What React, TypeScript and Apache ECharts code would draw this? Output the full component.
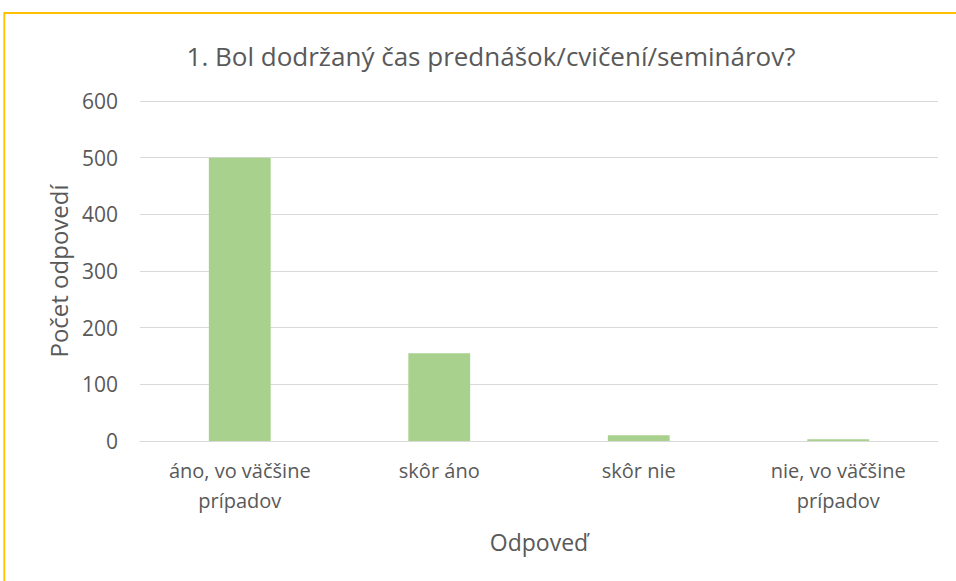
import React, { useEffect, useRef } from "react";
import * as echarts from "echarts";

const categories = ["áno, vo väčšine\nprípadov", "skôr áno", "skôr nie", "nie, vo väčšine\nprípadov"];
const values = [500, 155, 10, 3];
const titleText = "1. Bol dodržaný čas prednášok/cvičení/seminárov?";
const yAxisName = "Počet odpovedí";
const xAxisName = "Odpoveď";

const FONT = "'Open Sans', sans-serif";
const TEXT = "#595959";

export default function App() {
  const ref = useRef<HTMLDivElement>(null);
  useEffect(() => {
    if (!ref.current) return;
    const chart = echarts.init(ref.current, undefined, { renderer: "svg" });
    chart.setOption({
      animation: false,
      backgroundColor: "#ffffff",
      grid: { left: 140, right: 18, top: 101, bottom: 140 },
      xAxis: {
        type: "category",
        data: categories,
        axisLine: { show: true, lineStyle: { color: "#D9D9D9", width: 1 } },
        axisTick: { show: false },
        axisLabel: {
          color: TEXT,
          fontFamily: FONT,
          fontSize: 20,
          lineHeight: 30,
          margin: 14,
          interval: 0,
        },
      },
      yAxis: {
        type: "value",
        min: 0,
        max: 600,
        interval: 100,
        axisLine: { show: false },
        axisTick: { show: false },
        splitLine: { lineStyle: { color: "#D9D9D9", width: 1 } },
        axisLabel: { color: TEXT, fontFamily: FONT, fontSize: 21, margin: 22 },
      },
      series: [
        {
          type: "bar",
          data: values,
          barWidth: "31%",
          itemStyle: { color: "#A9D18E" },
        },
      ],
      graphic: [
        {
          type: "rect",
          shape: { x: 4.3, y: 13, width: 1200, height: 1200 },
          style: { fill: "none", stroke: "#FFC000", lineWidth: 1.8 },
          silent: true,
        },
        {
          type: "text",
          x: 491,
          y: 56,
          style: {
            text: titleText,
            fill: TEXT,
            font: `26px ${FONT}`,
            textAlign: "center",
            textVerticalAlign: "middle",
          },
        },
        {
          type: "text",
          x: 58,
          y: 271,
          rotation: Math.PI / 2,
          style: {
            text: yAxisName,
            fill: TEXT,
            font: `24px ${FONT}`,
            textAlign: "center",
            textVerticalAlign: "middle",
          },
        },
        {
          type: "text",
          x: 539,
          y: 542,
          style: {
            text: xAxisName,
            fill: TEXT,
            font: `23px ${FONT}`,
            textAlign: "center",
            textVerticalAlign: "middle",
          },
        },
      ],
    });
    return () => chart.dispose();
  }, []);
  return (
    <div
      ref={ref}
      style={{ position: "fixed", left: 0, top: 0, width: 956, height: 581 }}
    />
  );
}
